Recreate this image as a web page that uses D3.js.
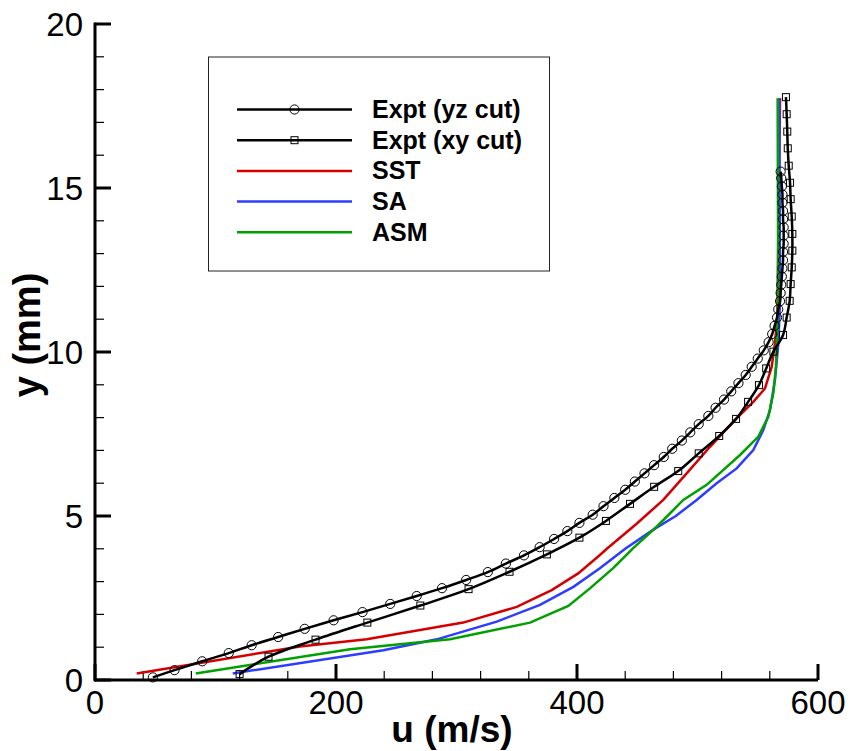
<!DOCTYPE html>
<html>
<head>
<meta charset="utf-8">
<script src="https://cdn.jsdelivr.net/npm/d3@7"></script>
<style>
  body { margin: 0; background: #fff; }
  svg { display: block; font-family: "Liberation Sans", Arial, sans-serif; }
</style>
</head>
<body>
<div id="chart"></div>
<script>
const width = 850
const height = 751

// Expt (yz cut) - circles
const yz_y = [0.08, 0.30, 0.57, 0.82, 1.06, 1.31, 1.56, 1.82, 2.07, 2.32, 2.56, 2.80, 3.05, 3.29, 3.55, 3.80, 4.05, 4.30, 4.54, 4.79, 5.04, 5.30, 5.55, 5.80, 6.05, 6.30, 6.55, 6.80, 7.05, 7.30, 7.55, 7.80, 8.05, 8.30, 8.55, 8.80, 9.05, 9.30, 9.55, 9.80, 10.05, 10.30, 10.55, 10.80, 11.05, 11.30, 11.55, 11.80, 12.05, 12.30, 12.55, 12.80, 13.05, 13.30, 13.55, 13.80, 14.05, 14.30, 14.55, 14.80, 15.05, 15.30, 15.50]
const yz_u = [48, 66, 89, 111, 130, 152, 174, 198, 222, 245, 267, 288, 308, 326, 341, 356, 369, 381, 392, 402, 413, 422, 431, 440, 448, 456, 464, 472, 479, 487, 494, 501, 509, 515, 522, 528, 534, 540, 545, 550, 555, 559, 562, 564, 566, 567, 568.5, 569, 569.5, 570, 570.5, 571, 571, 571.5, 571.5, 571.5, 571, 571, 570.5, 570.5, 570, 569.5, 569]

// Expt (xy cut) - squares
const xy_y = [0.18, 0.71, 1.23, 1.75, 2.27, 2.77, 3.30, 3.83, 4.34, 4.85, 5.37, 5.89, 6.37, 6.91, 7.44, 7.96, 8.48, 8.99, 9.50, 10.01, 10.52, 11.05, 11.56, 12.07, 12.58, 13.09, 13.60, 14.13, 14.66, 15.16, 15.68, 16.21, 16.72, 17.25, 17.77]
const xy_u = [120, 144, 183, 226, 270, 310, 344, 375, 402, 424, 444, 464, 484, 501, 518, 532, 542, 551, 557, 563, 571, 574, 576.5, 577.3, 578.2, 578.7, 578.7, 578.2, 577.3, 576.8, 575.7, 574.9, 574.5, 574, 573.4]

// SST
const sst_y = [0.20, 1.02, 1.24, 1.75, 2.23, 2.74, 3.25, 3.81, 4.01, 4.75, 5.49, 6.30, 7.11, 7.88, 8.48, 8.89, 9.55, 10.27, 11.08, 15.85, 17.74]
const sst_u = [34.6, 170, 225.5, 305.6, 350, 379, 401, 419, 425, 449, 471.6, 491, 510.4, 529.7, 546.3, 556, 561.6, 564.3, 566.2, 567.9, 568.5]

// SA
const sa_y = [0.20, 0.91, 1.24, 1.78, 2.29, 2.84, 3.41, 4.00, 4.60, 5.00, 5.49, 6.00, 6.45, 7.01, 7.62, 8.23, 9.15, 10.27, 11.59, 17.74]
const sa_u = [114.3, 239.3, 283.6, 333.4, 369.3, 397, 419, 440, 464, 482, 499.3, 515.9, 532.5, 546.3, 554.6, 560.2, 564.3, 567.1, 568.5, 567.8]

// ASM
const asm_y = [0.20, 0.94, 1.24, 1.75, 2.26, 2.80, 3.41, 4.00, 4.60, 5.00, 5.49, 5.95, 6.86, 7.42, 8.03, 8.74, 9.55, 11.59, 17.74]
const asm_u = [83.6, 211.6, 294.6, 361, 392.8, 411, 430, 446, 464, 475, 488.2, 507.6, 535.3, 550.5, 558.8, 562.9, 565.1, 567, 566.5]

const series_names = ["Expt (yz cut)", "Expt (xy cut)", "SST", "SA", "ASM"]
const series_colors = ["#000000", "#000000", "#d40000", "#2e3cff", "#00a000"]
const series_markers = ["circle", "square", null, null, null]

const x_ticks = [0, 200, 400, 600]
const y_ticks = [0, 5, 10, 15, 20]

const series = [
    {u: yz_u, y: yz_y},
    {u: xy_u, y: xy_y},
    {u: sst_u, y: sst_y},
    {u: sa_u, y: sa_y},
    {u: asm_u, y: asm_y}
].map((s, i) => ({
    name: series_names[i],
    color: series_colors[i],
    marker: series_markers[i],
    points: s.u.map((u, j) => ({u: u, y: s.y[j]}))
}))

const svg = d3.select("#chart").append("svg")
    .attr("width", width)
    .attr("height", height)

const x = d3.scaleLinear().domain([0, 600]).range([95, 818])
const y = d3.scaleLinear().domain([0, 20]).range([680, 24])

// axes
const axes = svg.append("g").attr("class", "axes")

axes.append("line")
    .attr("x1", x(0)).attr("x2", x(600))
    .attr("y1", y(0)).attr("y2", y(0))
    .attr("stroke", "black").attr("stroke-width", 3)
axes.append("line")
    .attr("x1", x(0)).attr("x2", x(0))
    .attr("y1", y(0) + 1.5).attr("y2", y(20) - 1.5)
    .attr("stroke", "black").attr("stroke-width", 3)

const xMinor = d3.range(0, 601, 40).filter(v => v % 200 !== 0)
const yMinor = d3.range(0, 20.01, 1).filter(v => v % 5 !== 0)

axes.selectAll(".xminor").data(xMinor).join("line")
    .attr("class", "xminor")
    .attr("x1", d => x(d)).attr("x2", d => x(d))
    .attr("y1", y(0)).attr("y2", y(0) - 9)
    .attr("stroke", "black").attr("stroke-width", 1.2)
axes.selectAll(".xmajor").data(x_ticks).join("line")
    .attr("class", "xmajor")
    .attr("x1", d => x(d)).attr("x2", d => x(d))
    .attr("y1", y(0)).attr("y2", y(0) - 16)
    .attr("stroke", "black").attr("stroke-width", 3)
axes.selectAll(".yminor").data(yMinor).join("line")
    .attr("class", "yminor")
    .attr("x1", x(0)).attr("x2", x(0) + 9)
    .attr("y1", d => y(d)).attr("y2", d => y(d))
    .attr("stroke", "black").attr("stroke-width", 1.2)
axes.selectAll(".ymajor").data(y_ticks).join("line")
    .attr("class", "ymajor")
    .attr("x1", x(0)).attr("x2", x(0) + 16)
    .attr("y1", d => y(d)).attr("y2", d => y(d))
    .attr("stroke", "black").attr("stroke-width", 3)

axes.selectAll(".xlabel").data(x_ticks).join("text")
    .attr("class", "xlabel")
    .attr("x", d => x(d))
    .attr("y", 714)
    .attr("text-anchor", "middle")
    .attr("font-size", 33)
    .text(d => d)
axes.selectAll(".ylabel").data(y_ticks).join("text")
    .attr("class", "ylabel")
    .attr("x", 83)
    .attr("y", d => y(d) + 12)
    .attr("text-anchor", "end")
    .attr("font-size", 33)
    .text(d => d)

svg.append("text")
    .attr("x", 452)
    .attr("y", 742)
    .attr("text-anchor", "middle")
    .attr("font-size", 37)
    .attr("font-weight", "bold")
    .text("u (m/s)")
svg.append("text")
    .attr("transform", "translate(40, 335) rotate(-90)")
    .attr("text-anchor", "middle")
    .attr("font-size", 38)
    .attr("font-weight", "bold")
    .text("y (mm)")

// curves
const line = d3.line().x(d => x(d.u)).y(d => y(d.y))
const smooth = d3.line().x(d => x(d.u)).y(d => y(d.y)).curve(d3.curveCatmullRom)

const curves = svg.append("g").attr("class", "curves")
series.slice(2).forEach(s => {
    curves.append("path")
        .attr("d", line(s.points))
        .attr("fill", "none")
        .attr("stroke", s.color)
        .attr("stroke-width", 2.5)
})
series.slice(0, 2).forEach(s => {
    curves.append("path")
        .attr("d", smooth(s.points))
        .attr("fill", "none")
        .attr("stroke", s.color)
        .attr("stroke-width", 2.5)
})

function drawMarker(g, kind, cx, cy) {
    if (kind === "circle") {
        g.append("circle")
            .attr("cx", cx).attr("cy", cy).attr("r", 4.6)
            .attr("fill", "none").attr("stroke", "black").attr("stroke-width", 1)
    } else if (kind === "square") {
        g.append("rect")
            .attr("x", cx - 3.5).attr("y", cy - 3.5)
            .attr("width", 7).attr("height", 7)
            .attr("fill", "none").attr("stroke", "black").attr("stroke-width", 1)
    }
}

const markers = svg.append("g").attr("class", "markers")
series.slice(0, 2).forEach(s => {
    s.points.forEach(p => drawMarker(markers, s.marker, x(p.u), y(p.y)))
})

// legend
const legend = svg.append("g").attr("class", "legend")
legend.append("rect")
    .attr("x", 208.5).attr("y", 57)
    .attr("width", 341).attr("height", 214)
    .attr("fill", "white").attr("stroke", "#222").attr("stroke-width", 1)

series.forEach((s, i) => {
    const ly = 109.5 + i * 30.7
    legend.append("line")
        .attr("x1", 237).attr("x2", 352)
        .attr("y1", ly).attr("y2", ly)
        .attr("stroke", s.color).attr("stroke-width", 2.5)
    if (s.marker) drawMarker(legend, s.marker, 294.5, ly)
    legend.append("text")
        .attr("x", 372)
        .attr("y", ly + 8.5)
        .attr("font-size", 25)
        .attr("font-weight", "bold")
        .text(s.name)
})
</script>
</body>
</html>
